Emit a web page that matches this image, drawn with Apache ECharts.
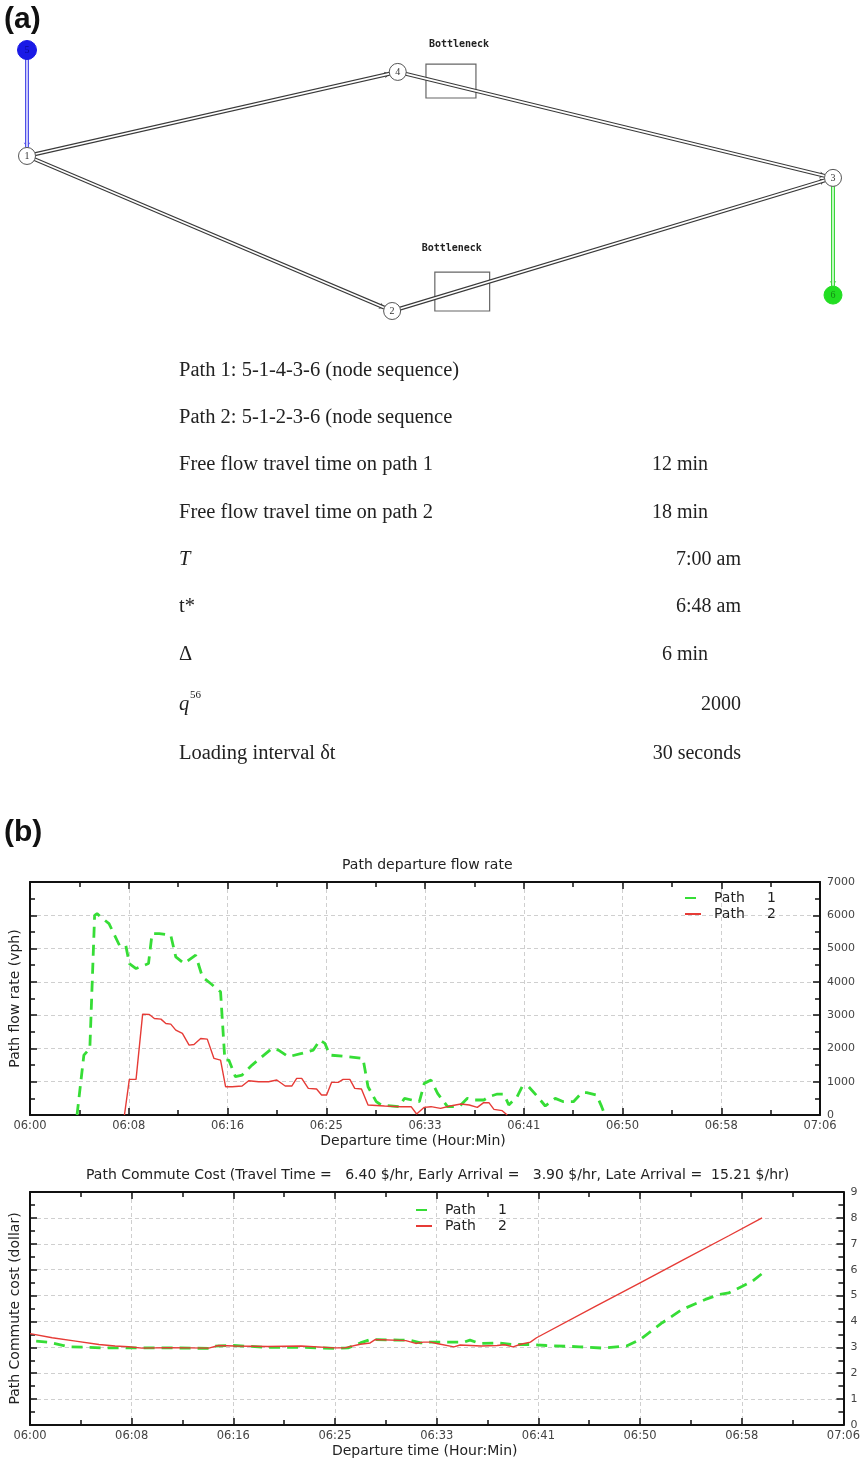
<!DOCTYPE html>
<html><head><meta charset="utf-8">
<script src="https://cdn.jsdelivr.net/npm/echarts@6/dist/echarts.min.js"></script>
<style>html,body{margin:0;padding:0;background:#fff}#c{width:863px;height:1459px}</style>
</head><body><div id="c"></div>
<script>
// ---------- DATA ----------
// network nodes (normalised diagram units, y grows downward)
const netNodes = [
  {name:'5', x:0,    y:0},
  {name:'1', x:0,    y:40.6},
  {name:'4', x:46.0, y:8.4},
  {name:'3', x:100,  y:49.0},
  {name:'2', x:45.3, y:100},
  {name:'6', x:100,  y:93.9}
];
const netLinks = [['5','1'],['1','4'],['4','3'],['1','2'],['2','3'],['3','6']];
const bottleneckLabel = 'Bottleneck';
// [x0, y0, x1, y1, labelX, labelY]
const bottlenecks = [
  [49.5, 5.4, 55.7, 18.4, 53.6, -2.3],
  [50.6, 85.1, 57.4, 100, 52.7, 75.9]
];

const tableLeft = ['Path 1: 5-1-4-3-6 (node sequence)', 'Path 2: 5-1-2-3-6 (node sequence',
  'Free flow travel time on path 1', 'Free flow travel time on path 2', 'T', 't*', '\u0394', 'q', 'Loading interval \u03b4t'];
const tableRight = ['', '', '12 min', '18 min', '7:00 am', '6:48 am', '6 min', '2000', '30 seconds'];
const qSuperscript = '56';

const xTickLabels = ['06:00','06:08','06:16','06:25','06:33','06:41','06:50','06:58','07:06'];
const flowTitle = 'Path departure flow rate';
const costTitle = 'Path Commute Cost (Travel Time =   6.40 $/hr, Early Arrival =   3.90 $/hr, Late Arrival =  15.21 $/hr)';
const seriesNames = ['Path     1', 'Path     2'];

// minutes after 06:00, vph
const flowPath1 = [[3.93,0],[4.5,1800],[5.0,2000],[5.4,6000],[5.6,6050],[5.9,5950],[6.6,5750],[7.47,5100],[8.0,5100],[8.3,4550],[8.86,4400],[9.9,4550],[10.2,5450],[10.8,5450],[11.76,5400],[12.18,4750],[12.87,4550],[13.84,4800],[14.4,4150],[15.09,3950],[15.92,3700],[16.28,1650],[16.61,1650],[17.16,1150],[17.72,1200],[18.55,1500],[20.21,2000],[20.76,1950],[21.59,1750],[22.7,1850],[23.67,1950],[24.22,2250],[24.64,2150],[25.05,1800],[26.58,1750],[27.82,1700],[28.24,850],[28.93,400],[29.34,300],[30.86,250],[31.28,500],[32.53,400],[32.94,950],[33.5,1050],[34.05,650],[34.88,250],[35.85,250],[36.54,500],[37.09,450],[37.92,450],[38.34,550],[39.04,630],[39.59,630],[40.0,300],[40.7,550],[41.11,850],[41.66,850],[42.36,570],[43.05,270],[43.88,500],[44.57,400],[45.4,400],[46.1,670],[46.51,670],[47.34,600],[47.76,250],[48.03,0]];
const flowPath2 = [[7.89,0],[8.3,1070],[8.86,1070],[9.41,3030],[9.97,3020],[10.39,2900],[10.94,2880],[11.35,2750],[11.76,2730],[12.18,2550],[12.73,2450],[13.29,2100],[13.7,2120],[14.26,2300],[14.81,2280],[15.37,1700],[15.92,1650],[16.34,850],[16.89,850],[17.72,870],[18.27,1030],[19.1,1000],[19.93,1000],[20.62,1050],[21.32,870],[21.87,870],[22.28,1100],[22.7,1100],[23.25,800],[23.94,780],[24.36,600],[24.78,600],[25.19,980],[25.75,980],[26.16,1070],[26.72,1070],[27.13,800],[27.69,780],[28.24,300],[29.62,270],[31.0,250],[31.84,250],[32.3,30],[32.94,230],[33.5,250],[34.3,200],[35.1,270],[36.0,330],[36.7,300],[37.37,230],[37.9,370],[38.34,370],[38.76,170],[39.45,130],[39.87,0]];
// minutes after 06:00, dollars
const costPath1 = [[0.5,3.24],[1.5,3.2],[3.2,3.02],[5.9,2.98],[8,2.98],[11,2.98],[14.5,2.96],[15,3.05],[16.5,3.07],[19.3,3.0],[22,3.0],[24.7,2.96],[25.8,2.98],[26.8,3.17],[27.6,3.3],[30,3.28],[30.8,3.28],[31.7,3.17],[32.5,3.2],[35.2,3.2],[35.7,3.28],[36.5,3.15],[37.9,3.17],[39.2,3.11],[40.5,3.11],[41.9,3.07],[44.6,3.02],[46.5,2.97],[48.4,3.05],[49.5,3.3],[51.3,3.95],[52.9,4.46],[54.8,4.85],[55.9,5.04],[56.7,5.1],[57.8,5.36],[58.6,5.55],[59.4,5.85]];
const costPath2 = [[0,3.53],[1.8,3.37],[3.7,3.24],[5.6,3.11],[6.9,3.05],[8,3.02],[9.1,2.97],[11.2,2.99],[14.5,2.97],[15.3,3.07],[16.6,3.05],[19.3,3.03],[22,3.05],[24.7,2.98],[25.5,2.98],[26.8,3.12],[27.6,3.17],[28,3.3],[30.5,3.26],[31.3,3.15],[31.9,3.2],[32.5,3.2],[33.0,3.15],[34.4,3.02],[34.9,3.09],[36.6,3.05],[37.9,3.07],[38.5,3.1],[39.2,3.02],[39.8,3.12],[40.6,3.2],[41.1,3.37],[45.95,4.6],[49.5,5.49],[53,6.38],[56.7,7.31],[59.4,8.0]];

// ---------- LAYOUT / STYLE ----------
const SANS = 'DejaVu Sans';
const SERIF = 'Liberation Serif';
const rowY = [371,418,465,513,560,607,655,705,754];
const valueRightX = [0,0,708,708,741,741,708,741,741];
const GREEN = '#36dd36', RED = '#e63b36';

const nodeStyle = {
  '5': {size:19, color:'#1a1ae6', border:'#1a1ae6', label:'#0a0a9a'},
  '6': {size:18, color:'#22de22', border:'#22de22', label:'#138a13'}
};
const linkColor = {'5-1':'#5050e8', '3-6':'#3ad43a'};
const linkInner = {'5-1':'#dcdcff', '3-6':'#dcffdc'};

function nodeData(visible) {
  return netNodes.map(n => {
    const s = nodeStyle[n.name] || {size:17, color:'#fff', border:'#555', label:'#333'};
    return {
      name: n.name, value: [n.x, n.y], symbolSize: s.size,
      itemStyle: visible ? {color: s.color, borderColor: s.border, borderWidth: 1} : {opacity: 0},
      label: {show: visible, position: 'inside', color: s.label, fontSize: 10, fontFamily: SERIF}
    };
  });
}

function xAxes(gridIndex) {
  const line = {show:true, onZero:false, lineStyle:{color:'#111', width:2}};
  const tick = {show:true, inside:true, length:7, lineStyle:{color:'#111', width:1.5}};
  const minor = {show:true, splitNumber:2, length:5, lineStyle:{color:'#111', width:1.5}};
  return [
    {type:'value', gridIndex, position:'bottom', min:0, max:66, interval:8.25,
     axisLine:line, axisTick:tick, minorTick:minor,
     axisLabel:{show:true, margin:5, color:'#444', fontFamily:SANS, fontSize:11.5,
       formatter: v => xTickLabels[Math.round(v / 8.25)]},
     splitLine:{show:true, lineStyle:{color:'#cfcfcf', type:[4,3], width:1}},
     name:'Departure time (Hour:Min)', nameLocation:'middle', nameGap:19,
     nameTextStyle:{color:'#222', fontFamily:SANS, fontSize:14, padding:[0,24,0,0]}},
    {type:'value', gridIndex, position:'top', min:0, max:66, interval:8.25,
     axisLine:line, axisTick:tick, minorTick:minor,
     axisLabel:{show:false}, splitLine:{show:false}}
  ];
}
function yAxes(gridIndex, max, interval, name) {
  const line = {show:true, onZero:false, lineStyle:{color:'#111', width:2}};
  const tick = {show:true, inside:true, length:7, lineStyle:{color:'#111', width:1.5}};
  const minor = {show:true, splitNumber:2, length:5, lineStyle:{color:'#111', width:1.5}};
  return [
    {type:'value', gridIndex, position:'right', min:0, max, interval,
     axisLine:line, axisTick:tick, minorTick:minor,
     axisLabel:{show:true, margin:7, color:'#444', fontFamily:SANS, fontSize:11, formatter: v => String(v)},
     splitLine:{show:true, lineStyle:{color:'#cfcfcf', type:[4,3], width:1}}},
    {type:'value', gridIndex, position:'left', min:0, max, interval,
     axisLine:line, axisTick:tick, minorTick:minor,
     axisLabel:{show:false}, splitLine:{show:false},
     name, nameLocation:'middle', nameGap:8,
     nameTextStyle:{color:'#222', fontFamily:SANS, fontSize:14}}
  ];
}

const graphics = [
  {type:'text', x:4, y:20, style:{text:'(a)', font:'bold 30px "Liberation Sans"', fill:'#111', verticalAlign:'middle'}},
  {type:'text', x:4, y:833, style:{text:'(b)', font:'bold 30px "Liberation Sans"', fill:'#111', verticalAlign:'middle'}}
];
tableLeft.forEach((t, i) => {
  const italic = (t === 'T' || t === 'q');
  graphics.push({type:'text', x:179, y:rowY[i], style:{text:t, font:(italic?'italic ':'') + '20.5px "' + SERIF + '"', fill:'#222', verticalAlign:'middle'}});
  if (t === 'q') {
    graphics.push({type:'text', x:190, y:rowY[i]-10, style:{text:qSuperscript, font:'11px "' + SERIF + '"', fill:'#222', verticalAlign:'middle'}});
  }
  if (tableRight[i]) {
    graphics.push({type:'text', x:valueRightX[i], y:rowY[i], style:{text:tableRight[i], font:'20px "' + SERIF + '"', fill:'#222', align:'right', verticalAlign:'middle'}});
  }
});

const lineSeries = (name, data, xi, yi, dashed) => ({
  name, type:'line', xAxisIndex:xi, yAxisIndex:yi, data, symbol:'none', showSymbol:false,
  animation:false, z:5, silent:true,
  itemStyle:{color: dashed ? GREEN : RED},
  lineStyle: dashed ? {color:GREEN, width:2.8, type:[11,7]} : {color:RED, width:1.4}
});

const legendCommon = {data:seriesNames, orient:'vertical', itemWidth:16, itemHeight:12, itemGap:2,
  itemStyle:{opacity:0}, selectedMode:false,
  textStyle:{fontFamily:SANS, fontSize:14, color:'#222', padding:[0,0,0,8]}};

const option = {
  animation:false,
  backgroundColor:'#fff',
  title:[
    {text:flowTitle, left:337, top:853, textStyle:{fontFamily:SANS, fontSize:14, fontWeight:'normal', color:'#222'}},
    {text:costTitle, left:81, top:1163, textStyle:{fontFamily:SANS, fontSize:14, fontWeight:'normal', color:'#222'}}
  ],
  legend:[
    Object.assign({left:679, top:886}, legendCommon),
    Object.assign({left:410, top:1198}, legendCommon)
  ],
  grid:[
    {left:27, right:30, top:23.9, bottom:1148, show:false},
    {left:27, right:43, top:882, bottom:344, show:false},
    {left:27, right:17, top:1192, bottom:33, show:false}
  ],
  xAxis:[
    {type:'value', gridIndex:0, min:0, max:100, show:false}
  ].concat(xAxes(1), xAxes(2)),
  yAxis:[
    {type:'value', gridIndex:0, min:-10, max:100, inverse:true, show:false}
  ].concat(yAxes(1, 7000, 1000, 'Path flow rate (vph)'), yAxes(2, 9, 1, 'Path Commute cost (dollar)')),
  graphic: graphics,
  series:[
    {type:'custom', xAxisIndex:0, yAxisIndex:0, data:bottlenecks, silent:true, z:1,
     renderItem(params, api) {
       const p0 = api.coord([api.value(0), api.value(1)]);
       const p1 = api.coord([api.value(2), api.value(3)]);
       const pl = api.coord([api.value(4), api.value(5)]);
       return {type:'group', children:[
         {type:'rect', shape:{x:p0[0], y:p0[1], width:p1[0]-p0[0], height:p1[1]-p0[1]},
          style:{fill:'none', stroke:'#666', lineWidth:1.2}},
         {type:'text', style:{text:bottleneckLabel, x:pl[0], y:pl[1], align:'center', verticalAlign:'middle',
          font:'bold 10px "DejaVu Sans Mono"', fill:'#222'}}
       ]};
     }},
    {type:'graph', coordinateSystem:'cartesian2d', xAxisIndex:0, yAxisIndex:0, silent:true, z:2,
     data: nodeData(false),
     links: netLinks.map(([s,t]) => ({source:s, target:t,
       lineStyle:{color: linkColor[s+'-'+t] || '#3a3a3a', width:4, opacity:1}})),
     edgeSymbol:['none','arrow'], edgeSymbolSize:[0,5],
     lineStyle:{opacity:1, curveness:0}, emphasis:{disabled:true}},
    {type:'graph', coordinateSystem:'cartesian2d', xAxisIndex:0, yAxisIndex:0, silent:true, z:3,
     data: nodeData(true),
     links: netLinks.map(([s,t]) => ({source:s, target:t,
       lineStyle:{color: linkInner[s+'-'+t] || '#ffffff', width:1.7, opacity:1}})),
     lineStyle:{opacity:1, curveness:0}, emphasis:{disabled:true}},
    lineSeries(seriesNames[0], flowPath1, 1, 1, true),
    lineSeries(seriesNames[1], flowPath2, 1, 1, false),
    lineSeries(seriesNames[0], costPath1, 3, 3, true),
    lineSeries(seriesNames[1], costPath2, 3, 3, false)
  ]
};

const chart = echarts.init(document.getElementById('c'), null, {width:863, height:1459});
chart.setOption(option);
</script>
</body></html>
